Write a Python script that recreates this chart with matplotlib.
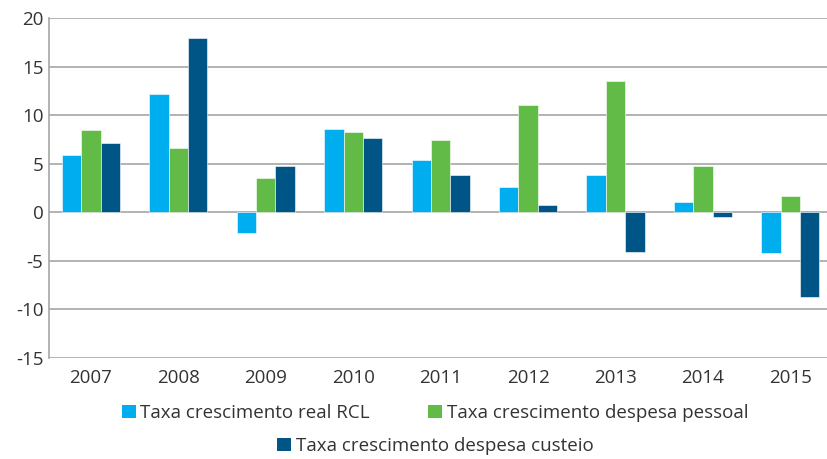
import matplotlib
matplotlib.use("Agg")
import matplotlib.pyplot as plt
import numpy as np
from matplotlib.patches import Patch

plt.rcParams['font.family'] = ['Open Sans', 'DejaVu Sans']
plt.rcParams['axes.unicode_minus'] = False

years = ['2007', '2008', '2009', '2010', '2011', '2012', '2013', '2014', '2015']
rcl = [5.9, 12.2, -2.1, 8.6, 5.4, 2.6, 3.8, 1.1, -4.2]
pessoal = [8.5, 6.6, 3.5, 8.3, 7.4, 11.0, 13.5, 4.8, 1.7]
custeio = [7.1, 17.9, 4.8, 7.6, 3.8, 0.7, -4.1, -0.5, -8.7]
series_names = ['Taxa crescimento real RCL', 'Taxa crescimento despesa pessoal',
                'Taxa crescimento despesa custeio']
colors = ['#00AEEF', '#62BB46', '#005587']

fig = plt.figure(figsize=(8.27, 4.59), dpi=100)
ax = fig.add_axes([49/827, 1-358/459, 1-49/827, 340/459])

x = np.arange(len(years))
w = 0.222
for i, (vals, c) in enumerate(zip([rcl, pessoal, custeio], colors)):
    ax.bar(x + (i-1)*w, vals, width=w, color=c, edgecolor='white', linewidth=0.4, zorder=3)

ax.set_ylim(-15, 20)
ax.set_yticks(np.arange(-15, 21, 5))
ax.set_xlim(-0.48, 8.42)
ax.set_xticks(x)
ax.set_xticklabels(years)
ax.yaxis.grid(True, color='#A6A6A6', linewidth=1.2, zorder=0)
for s in ['top', 'right', 'bottom']:
    ax.spines[s].set_visible(False)
ax.spines['left'].set_color('#A6A6A6')
ax.spines['left'].set_linewidth(1.2)
ax.tick_params(axis='both', length=0, labelsize=13.5, colors='#333333', pad=4)
ax.tick_params(axis='x', pad=8)

h = [Patch(facecolor=c) for c in colors]
kw = dict(frameon=False, fontsize=13.5, handlelength=0.75, handleheight=0.75,
          handletextpad=0.25, labelcolor='#333333')
fig.legend(h[:2], series_names[:2], loc='center', bbox_to_anchor=(435/827, 1-413/459),
           ncol=2, columnspacing=3.1, **kw)
fig.legend(h[2:], series_names[2:], loc='center', bbox_to_anchor=(435/827, 1-446/459), **kw)

fig.savefig('out.png', dpi=100)
